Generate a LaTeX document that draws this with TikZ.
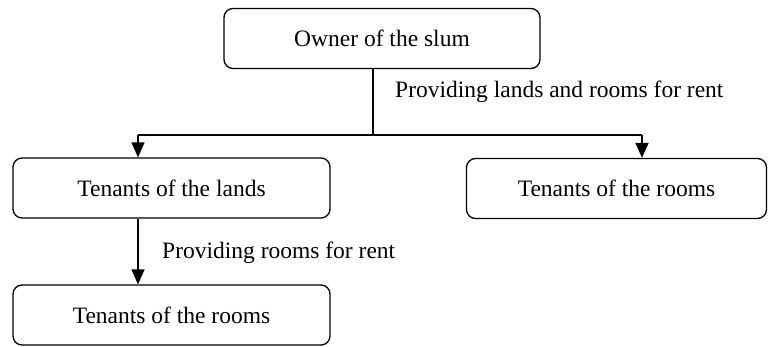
\documentclass[tikz,border=0pt]{standalone}
\usepackage{fontspec}
\setmainfont{Liberation Serif}
\usetikzlibrary{positioning}
\usetikzlibrary{arrows.meta}
\tikzset{
    party/.style={draw, line width=1.3pt, rounded corners=9pt, minimum height=60pt, inner sep=0pt, font=\fontsize{23.5}{28}\selectfont},
    flow/.style={line width=1.3pt, -{Triangle[width=13pt,length=15pt]}},
    note/.style={anchor=west, inner sep=0pt, font=\fontsize{23.5}{28}\selectfont}
}
\begin{document}
\begin{tikzpicture}[x=1pt,y=-1pt]
			\useasboundingbox (0,0) rectangle (768,346);
			\node[party, minimum width=316pt] (owner) at (382,38.5) {Owner of the slum};
			\node[party, minimum width=317pt] (lands) at (171.5,188) {Tenants of the lands};
			\node[party, minimum width=300pt] (roomsR) at (616.5,188.5) {Tenants of the rooms};
			\node[party, minimum width=317pt] (roomsL) at (171.5,315) {Tenants of the rooms};
			% split of the first arrow
			\coordinate (split) at (373,135);
			\coordinate (lcol) at (138,135);
			\coordinate (rcol) at (642,135);
			\draw[line width=1.3pt] (owner.south -| split) -- (split);
			\draw[line width=1.3pt] (lcol) -- (rcol);
			\draw[flow] (lcol) -- (lcol |- lands.north);
			\draw[flow] (rcol) -- (rcol |- roomsR.north);
			\draw[flow] (lcol |- lands.south) -- (lcol |- roomsL.north);
			\node[note] (give1) at (395,92) {Providing lands and rooms for rent};
			\node[note] (give2) at (162,253) {Providing rooms for rent};
	\end{tikzpicture}
\end{document}
